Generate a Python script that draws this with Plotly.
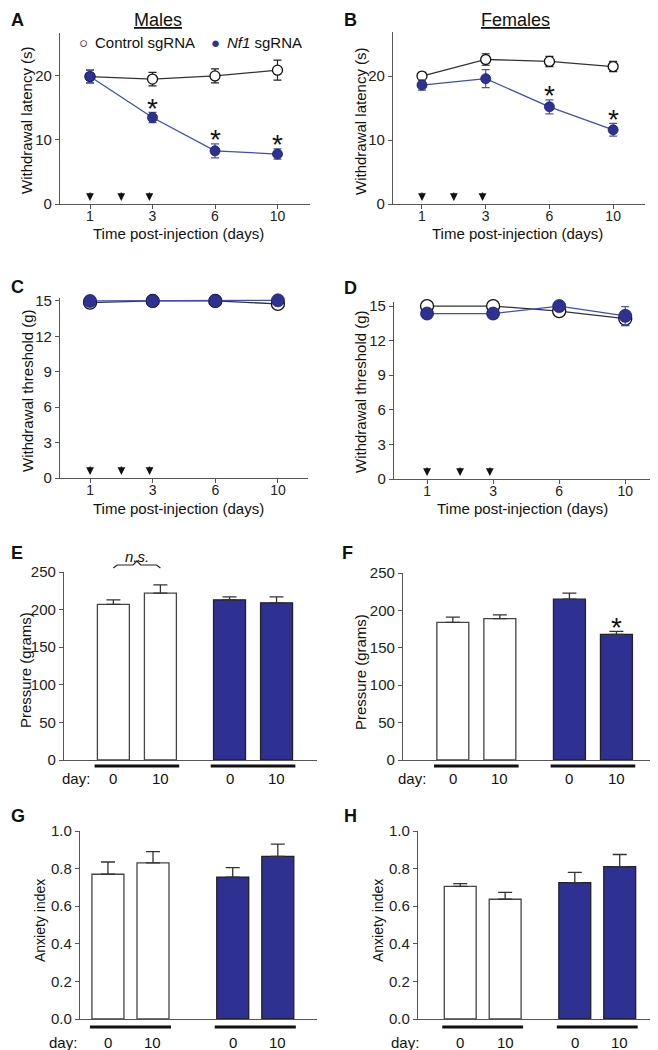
import plotly.graph_objects as go

W, H = 658, 1050
OFF = 8  # the page body adds an 8px margin around the figure
FONT = "Liberation Sans, Arial, sans-serif"
BLUE = "#2e3192"
BLUE_LINE = "#3d4fb8"
DARK = "#333333"
AXC = "#555555"

# ---------------- data ----------------
time_days = ["1", "3", "6", "10"]
injection_pos = [0, 0.5, 0.95]   # injection days 1, 2, 3 on the category scale

A_ctrl = [19.9, 19.5, 20.0, 20.9]
A_ctrl_err = [1.0, 1.05, 1.1, 1.55]
A_nf1 = [19.9, 13.5, 8.3, 7.8]
A_nf1_err = [1.0, 0.8, 1.1, 0.8]
A_sig = [False, True, True, True]

B_ctrl = [20.0, 22.6, 22.3, 21.5]
B_ctrl_err = [0.6, 0.9, 0.8, 0.8]
B_nf1 = [18.6, 19.6, 15.2, 11.6]
B_nf1_err = [0.8, 1.4, 1.1, 1.0]
B_sig = [False, False, True, True]

C_ctrl = [14.85, 15.0, 15.0, 14.75]
C_ctrl_err = [0, 0, 0, 0]
C_nf1 = [15.0, 15.0, 15.0, 15.05]
C_nf1_err = [0, 0, 0, 0]

D_ctrl = [15.0, 15.0, 14.55, 13.9]
D_ctrl_err = [0, 0, 0, 0.6]
D_nf1 = [14.35, 14.35, 15.0, 14.15]
D_nf1_err = [0.4, 0.4, 0, 0.8]

bar_days = ["0", "10"]
E_ctrl = [207, 222]
E_ctrl_err = [6, 11]
E_nf1 = [213, 209]
E_nf1_err = [4, 8]

F_ctrl = [184, 189]
F_ctrl_err = [7, 5]
F_nf1 = [215, 168]
F_nf1_err = [8, 4]
F_sig = [False, True]

G_ctrl = [0.77, 0.83]
G_ctrl_err = [0.065, 0.06]
G_nf1 = [0.755, 0.865]
G_nf1_err = [0.05, 0.065]

H_ctrl = [0.705, 0.637]
H_ctrl_err = [0.015, 0.037]
H_nf1 = [0.725, 0.81]
H_nf1_err = [0.055, 0.065]

# ---------------- helpers ----------------
fig = go.Figure()
annotations = []
shapes = []


def px(xp):
    return (xp - OFF) / W


def py(yp):
    return 1 - (yp - OFF) / H


def axnames(i):
    return ("x" if i == 1 else f"x{i}", "y" if i == 1 else f"y{i}")


def make_axes(i, xpx, ypx, xr, yr, ytickvals, yfmt=None, xtickvals=None, xticktext=None):
    xn, yn = axnames(i)
    xa = dict(domain=[px(xpx[0]), px(xpx[1])], range=xr, anchor=yn,
              showline=True, linecolor=AXC, linewidth=1.3, showgrid=False,
              zeroline=False, fixedrange=True, automargin=False,
              tickfont=dict(family=FONT, size=14, color="#222"))
    if xtickvals is not None:
        xa.update(ticks="outside", ticklen=4, tickwidth=1.2, tickcolor=AXC,
                  tickvals=xtickvals, ticktext=xticktext, showticklabels=True,
                  ticklabelstandoff=-5)
    else:
        xa.update(ticks="", showticklabels=False)
    ya = dict(domain=[py(ypx[1]), py(ypx[0])], range=yr, anchor=xn,
              showline=True, linecolor=AXC, linewidth=1.3, showgrid=False,
              zeroline=False, fixedrange=True, ticks="outside", ticklen=4,
              tickwidth=1.2, tickcolor=AXC, tickvals=ytickvals, automargin=False,
              tickfont=dict(family=FONT, size=15, color="#222"))
    if yfmt:
        ya["tickformat"] = yfmt
    key_x = "xaxis" if i == 1 else f"xaxis{i}"
    key_y = "yaxis" if i == 1 else f"yaxis{i}"
    fig.update_layout({key_x: xa, key_y: ya})


def text(x, y, t, size=15, xref="paper", yref="paper", angle=0, **kw):
    d = dict(x=x, y=y, xref=xref, yref=yref, text=t, showarrow=False,
             font=dict(family=FONT, size=size, color="#111"),
             xanchor="center", yanchor="middle", textangle=angle)
    d.update(kw)
    annotations.append(d)


def line_panel(i, ctrl, ctrl_err, nf1, nf1_err, msize, sig=None):
    xn, yn = axnames(i)
    xs = list(range(len(time_days)))
    fig.add_trace(go.Scatter(
        x=xs, y=ctrl, xaxis=xn, yaxis=yn, mode="lines+markers", cliponaxis=False,
        line=dict(color=DARK, width=1.3),
        marker=dict(size=msize, color="white", line=dict(color="#111", width=1.3)),
        error_y=dict(type="data", array=ctrl_err, color="#222", thickness=1.2,
                     width=4, visible=any(e > 0 for e in ctrl_err)),
        showlegend=False))
    fig.add_trace(go.Scatter(
        x=xs, y=nf1, xaxis=xn, yaxis=yn, mode="lines+markers", cliponaxis=False,
        line=dict(color=BLUE_LINE, width=1.3),
        marker=dict(size=msize, color=BLUE, line=dict(color="#1c1f66", width=0.8)),
        error_y=dict(type="data", array=nf1_err, color="#4a55b0", thickness=1.2,
                     width=4, visible=any(e > 0 for e in nf1_err)),
        showlegend=False))
    if sig:
        for xv, yv, ev, s in zip(xs, nf1, nf1_err, sig):
            if s:
                text(xv, yv + ev, "*", size=28, xref=xn, yref=yn, yshift=4)
    for p in injection_pos:
        annotations.append(dict(x=p, y=0, xref=xn, yref=yn, ax=0, ay=-13,
                                axref="pixel", ayref="pixel", text="",
                                showarrow=True, arrowhead=2, arrowsize=1.2,
                                arrowwidth=1.3, arrowcolor="#111", standoff=3))


def bar_panel(i, ctrl, ctrl_err, nf1, nf1_err, offset, width, under_y, label_gap, sig=None):
    xn, yn = axnames(i)
    for g, (vals, errs, fill, outline) in enumerate(
            [(ctrl, ctrl_err, "white", "#444"), (nf1, nf1_err, BLUE, "#222")]):
        xs = [g * offset + d for d in range(len(bar_days))]
        fig.add_trace(go.Bar(
            x=xs, y=vals, xaxis=xn, yaxis=yn, width=width,
            marker=dict(color=fill, line=dict(color=outline, width=1.3)),
            error_y=dict(type="data", symmetric=False, array=errs,
                         arrayminus=[0] * len(errs), color="#333",
                         thickness=1.3, width=7),
            showlegend=False))
        shapes.append(dict(type="line", xref=xn, yref="paper",
                           x0=xs[0] - 0.4, x1=xs[-1] + 0.4,
                           y0=py(under_y), y1=py(under_y),
                           line=dict(color="#111", width=3)))
        for xv, d in zip(xs, bar_days):
            text(xv, py(under_y + label_gap), d, size=15, xref=xn)
        if sig and g == 1:
            for xv, yv, ev, s in zip(xs, vals, errs, sig):
                if s:
                    text(xv, yv + ev, "*", size=28, xref=xn, yref=yn, yshift=4)


# ---------------- panels A-D ----------------
make_axes(1, (60, 310), (33, 204), [-0.48, 3.52], [0, 26.7], [0, 10, 20],
          xtickvals=[0, 1, 2, 3], xticktext=time_days)
make_axes(2, (393, 645), (32, 204), [-0.455, 3.5], [0, 26.9], [0, 10, 20],
          xtickvals=[0, 1, 2, 3], xticktext=time_days)
make_axes(3, (60, 308), (298, 478), [-0.48, 3.48], [0, 15.25],
          [0, 3, 6, 9, 12, 15], xtickvals=[0, 1, 2, 3], xticktext=time_days)
make_axes(4, (394, 655), (302, 479), [-0.5, 3.45], [0, 15.35],
          [0, 3, 6, 9, 12, 15], xtickvals=[0, 1, 2, 3], xticktext=time_days)

line_panel(1, A_ctrl, A_ctrl_err, A_nf1, A_nf1_err, 10, A_sig)
line_panel(2, B_ctrl, B_ctrl_err, B_nf1, B_nf1_err, 10, B_sig)
line_panel(3, C_ctrl, C_ctrl_err, C_nf1, C_nf1_err, 13)
line_panel(4, D_ctrl, D_ctrl_err, D_nf1, D_nf1_err, 13)

# ---------------- panels E-H ----------------
make_axes(5, (64, 317), (572, 760), [-1.05, 4.33], [0, 250], [0, 50, 100, 150, 200, 250])
make_axes(6, (403, 655), (573, 760), [-1.06, 4.3], [0, 250], [0, 50, 100, 150, 200, 250])
make_axes(7, (80, 317), (831, 1019), [-0.62, 4.64], [0, 1.0], [0, 0.2, 0.4, 0.6, 0.8, 1.0], ".1f")
make_axes(8, (418, 657), (831, 1019), [-0.94, 4.38], [0, 1.0], [0, 0.2, 0.4, 0.6, 0.8, 1.0], ".1f")

bar_panel(5, E_ctrl, E_ctrl_err, E_nf1, E_nf1_err, 2.47, 0.68, 766, 12)
bar_panel(6, F_ctrl, F_ctrl_err, F_nf1, F_nf1_err, 2.48, 0.68, 766, 12, F_sig)
bar_panel(7, G_ctrl, G_ctrl_err, G_nf1, G_nf1_err, 2.77, 0.71, 1027, 15)
bar_panel(8, H_ctrl, H_ctrl_err, H_nf1, H_nf1_err, 2.55, 0.71, 1027, 15)

# "day:" labels
text(px(76), py(778), "day:")
text(px(412), py(778), "day:")
text(px(63), py(1042), "day:")
text(px(405), py(1042), "day:")

# n.s. bracket in E
yb, yt, ym = py(568), py(565), py(561)
shapes.append(dict(type="path", xref="x5", yref="paper",
                   path=f"M 0,{yb} L 0.08,{yt} L 0.42,{yt} L 0.5,{ym} L 0.58,{yt} L 0.92,{yt} L 1,{yb}",
                   line=dict(color="#222", width=1.2)))
text(0.5, py(556), "<i>n.s.</i>", size=15, xref="x5")

# ---------------- labels ----------------
for lab, x, y in [("A", 9, 20), ("B", 342, 20), ("C", 9, 287), ("D", 342, 288),
                  ("E", 9, 553), ("F", 340, 553), ("G", 9, 816), ("H", 342, 816)]:
    text(px(x), py(y), f"<b>{lab}</b>", size=18, xanchor="left")

text(px(158), py(20), "<u>Males</u>", size=18)
text(px(515), py(20), "<u>Females</u>", size=18)

# legend in A
text(px(83), py(43), "○", size=15)
text(px(93), py(43), "Control sgRNA", size=15, xanchor="left")
text(px(215), py(43), f"<span style='color:{BLUE}'>●</span>", size=15)
text(px(225), py(43), "<i>Nf1</i> sgRNA", size=15, xanchor="left")

# axis titles
text(px(26), py(120), "Withdrawal latency (s)", angle=-90)
text(px(360), py(121), "Withdrawal latency (s)", angle=-90)
text(px(27), py(391), "Withdrawal threshold (g)", angle=-90)
text(px(361), py(392), "Withdrawal threshold (g)", angle=-90)
text(px(25), py(670), "Pressure (grams)", angle=-90)
text(px(360), py(672), "Pressure (grams)", angle=-90)
text(px(40), py(921), "Anxiety index", size=14, angle=-90)
text(px(378), py(921), "Anxiety index", size=14, angle=-90)

text(px(178), py(233), "Time post-injection (days)")
text(px(517), py(233), "Time post-injection (days)")
text(px(178), py(508), "Time post-injection (days)")
text(px(522), py(508), "Time post-injection (days)")

fig.update_layout(
    width=W, height=H, margin=dict(l=0, r=0, t=0, b=0, pad=0, autoexpand=False),
    paper_bgcolor="white", plot_bgcolor="white",
    font=dict(family=FONT, color="#111"),
    barmode="overlay", showlegend=False,
    annotations=annotations, shapes=shapes,
)

fig.write_html("out.html")
